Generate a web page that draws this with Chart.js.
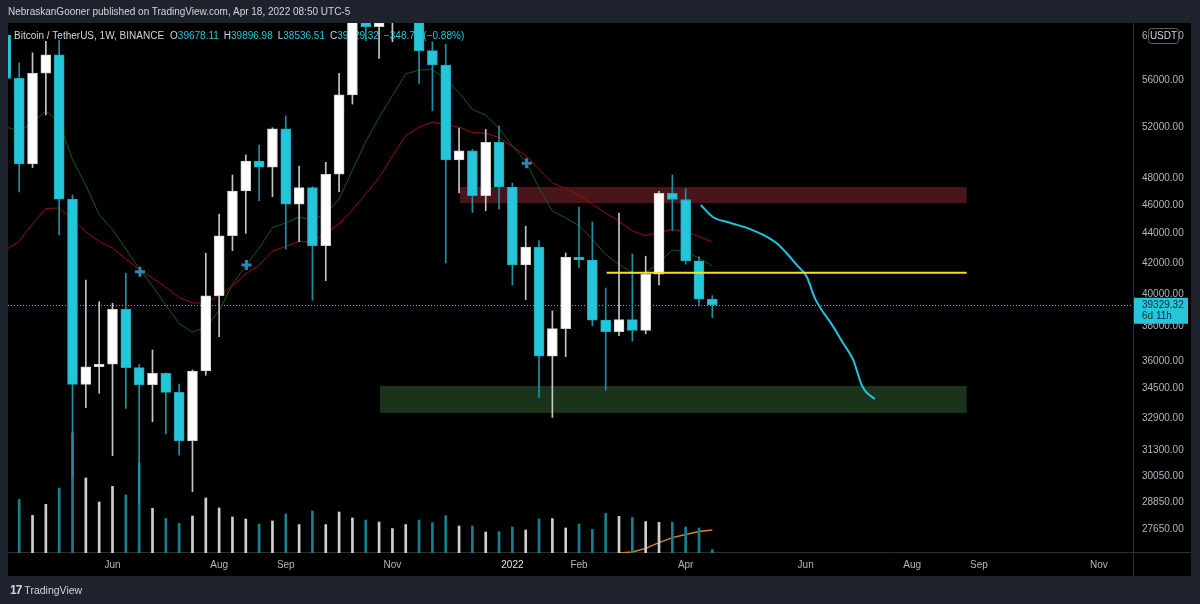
<!DOCTYPE html>
<html>
<head>
<meta charset="utf-8">
<script src="https://cdn.jsdelivr.net/npm/chart.js@4.4.1/dist/chart.umd.min.js"></script>
<style>
  html, body { margin: 0; padding: 0; background: #1e222d; }
  body { width: 1200px; height: 604px; position: relative; overflow: hidden; font-family: "Liberation Sans", Arial, sans-serif; }
  #chart { position: absolute; left: 0; top: 0; }
  #head { position: absolute; left: 8px; top: 6px; color: #d1d4dc; font-size: 10px; white-space: nowrap; }
  #foot { position: absolute; left: 10px; top: 583px; color: #d1d4dc; font-size: 10.5px; white-space: nowrap; }
  #foot b { font-size: 12px; letter-spacing: -1px; margin-right: 3px; }
</style>
</head>
<body>
<canvas id="chart" width="1200" height="604"></canvas>
<div id="head">NebraskanGooner published on TradingView.com, Apr 18, 2022 08:50 UTC-5</div>
<div id="foot"><b>17</b>TradingView</div>
<script>
// weeks counted from the week of Jun 7 2021 (= 0)
const weekIdx = [-8,-7,-6,-5,-4,-3,-2,-1,0,1,2,3,4,5,6,7,8,9,10,11,12,13,14,15,16,17,18,19,20,21,22,23,24,25,26,27,28,29,30,31,32,33,34,35,36,37,38,39,40,41,42,43,44,45];

const open  = [60100,56150,49070,56600,58250,46430,34700,35680,35820,39050,35625,34685,35313,34270,31760,35440,39890,43840,47030,49300,48820,51870,46060,47280,43160,48290,54700,61530,60900,61300,63270,65470,58640,57340,49390,50100,46690,50775,47330,41866,43070,36280,37880,42380,42200,38390,37700,38420,37780,41260,46860,46410,42150,39678.11];
const high  = [64850,57520,58450,59500,59600,46740,40890,39520,39420,41330,35800,36630,35340,34720,35500,42640,45360,48230,49770,50560,51950,52920,48920,47350,49200,56590,62930,67000,63710,64270,69000,66280,59470,59230,51920,50220,51820,52110,47630,44500,43500,38950,42660,45850,44800,40380,45430,42590,42450,47000,48240,47200,42400,39896.98];
const low   = [50930,46960,48800,53000,43900,30000,33450,34220,31020,33420,28810,32720,32100,31050,29310,35200,37400,42820,44000,46320,46610,42930,43430,39600,40850,46980,53920,59560,57940,59470,62280,55710,53360,42000,46890,45480,45600,45700,40570,39650,34000,32950,36250,41700,38050,34390,37460,37150,37580,40570,44200,41920,39260,38536.51];
const close = [56150,49070,56600,58250,46430,34700,35680,35820,39050,35625,34685,35313,34270,31760,35440,39890,43840,47030,49300,48820,51870,46060,47280,43160,48290,54700,61530,60900,61300,63270,65470,58640,57340,49390,50100,46690,50775,47330,41866,43070,36280,37880,42380,42200,38390,37700,38420,37780,41260,46860,46410,42150,39678.11,39329.32];

// volume in thousand BTC
const volume = [300,268,188,243,325,600,375,255,333,291,450,223,173,148,185,275,225,180,170,145,160,195,142,210,142,205,175,165,155,122,142,165,152,187,135,135,105,107,130,115,170,172,125,145,118,198,183,178,157,153,153,130,125,17];

const maFast = [52011,51685,52340,53336,52380,49420,47440,45326,44270,42932,41636,40506,39314,38187,37680,37977,38945,40634,41800,43000,44409,44724,45148,44935,45397,46444,48611,50839,52794,54652,56531,56888,56933,56044,54910,53462,53002,51889,50481,49265,47254,45576,45078,44548,43579,42563,41899,41376,41343,42031,42865,42764,42329,41800];
const maSlow = [42865,43476,44654,45756,45792,45006,44096,43442,43000,42263,41571,41019,40443,39780,39438,39438,39937,40506,41278,41866,42798,43102,43442,43408,44026,44654,45648,46811,48042,49693,51321,52011,52422,52175,52011,51564,51499,51160,50441,49732,48649,47628,47217,46774,46044,45433,44865,44165,43854,44096,44270,44130,43785,43408];

const volMaWeeks = [38,39,40,41,42,43,44,45];
const volMa = [0,5,23,52,77,93,107,115];

const crossWeeks = [2.06,10.05,31.07];
const crossPrice = [41430,41866,49126];

// drawn projection
const forecastWeeks = [44.13,45.07,46.32,47.83,48.82,49.83,50.58,51.33,52.08,52.7,54.07,54.82,55.57,56.2,56.45,57.2];
const forecastPrice = [46010,45130,44745,44300,43890,43320,42644,41870,41100,39730,38000,37017,36060,34670,34360,33910];

// [from week, to week, low price, high price]
const supplyZone = [26.07,64.08,46150,47330];
const demandZone = [20.07,64.08,33180,34620];
const levelWeeks = [37.07,64.08];
const levelPrice = 41362;
const lastPrice = 39329.32;

const priceTicks = [60000,56000,52000,48000,46000,44000,42000,40000,38000,36000,34500,32900,31300,30050,28850,27650];
const timeTickWeeks = [0,8,13,21,30,35,43,52,60,65,74];
const timeTickLabels = ['Jun','Aug','Sep','Nov','2022','Feb','Apr','Jun','Aug','Sep','Nov'];

const CYAN = '#26c6da';
const FONT = '"Liberation Sans", Arial, sans-serif';
const isUp = i => close[i] >= open[i];

const frame = {
  id: 'frame',
  beforeDraw(chart) {
    const {ctx, chartArea: a, scales: {x, y}} = chart;
    ctx.save();
    ctx.fillStyle = '#000';
    ctx.fillRect(a.left, a.top, y.right - a.left, x.bottom - a.top);
    ctx.strokeStyle = '#2a2e39';
    ctx.lineWidth = 1;
    ctx.beginPath();
    ctx.moveTo(a.right + 0.5, a.top); ctx.lineTo(a.right + 0.5, x.bottom);
    ctx.moveTo(a.left, a.bottom - 0.5); ctx.lineTo(y.right, a.bottom - 0.5);
    ctx.stroke();
    ctx.restore();
  },
  beforeDatasetsDraw(chart) {
    const {ctx, chartArea: a, scales: {x, y}} = chart;
    ctx.save();
    ctx.beginPath();
    ctx.rect(a.left, a.top, a.right - a.left, a.bottom - a.top);
    ctx.clip();
    const zone = (z, color) => {
      const x0 = x.getPixelForValue(z[0]), x1 = x.getPixelForValue(z[1]);
      const y0 = y.getPixelForValue(z[3]), y1 = y.getPixelForValue(z[2]);
      ctx.fillStyle = color;
      ctx.fillRect(x0, y0, x1 - x0, y1 - y0);
    };
    zone(supplyZone, '#4a1519');
    zone(demandZone, '#1b331b');

    // last price dotted line
    const py = Math.round(y.getPixelForValue(lastPrice)) + 0.5;
    ctx.strokeStyle = CYAN;
    ctx.setLineDash([1, 2]);
    ctx.beginPath();
    ctx.moveTo(a.left, py); ctx.lineTo(a.right, py);
    ctx.stroke();
    ctx.setLineDash([]);

    // symbol legend
    ctx.font = '10px ' + FONT;
    ctx.textBaseline = 'middle';
    let tx = a.left + 6;
    const ty = a.top + 13;
    const put = (t, c, gap) => { ctx.fillStyle = c; ctx.fillText(t, tx, ty); tx += ctx.measureText(t).width + gap; };
    put('Bitcoin / TetherUS, 1W, BINANCE', '#d1d4dc', 6);
    const n = close.length - 1;
    const ohlc = [['O', open[n]], ['H', high[n]], ['L', low[n]], ['C', close[n]]];
    ohlc.forEach(([k, v]) => { put(k, '#d1d4dc', 0); put(v.toFixed(2), CYAN, 5); });
    const ch = close[n] - open[n];
    put('\u2212' + Math.abs(ch).toFixed(2), CYAN, 3);
    put('(\u2212' + Math.abs(ch / open[n] * 100).toFixed(2) + '%)', CYAN, 0);
    ctx.restore();
  },
  afterDraw(chart) {
    const {ctx, chartArea: a, scales: {y}} = chart;
    ctx.save();
    const py = y.getPixelForValue(lastPrice);
    ctx.fillStyle = CYAN;
    ctx.fillRect(a.right + 1, py - 7, 54, 26);
    ctx.fillStyle = '#0c2a33';
    ctx.font = '10px ' + FONT;
    ctx.textBaseline = 'middle';
    ctx.fillText(lastPrice.toFixed(2), a.right + 9, py + 0.5);
    ctx.fillText('6d 11h', a.right + 9, py + 11);
    // currency badge
    const bx = a.right + 15, by = a.top + 5;
    ctx.fillStyle = '#000';
    ctx.strokeStyle = '#5d606b';
    ctx.beginPath();
    ctx.roundRect(bx + 0.5, by + 0.5, 30, 15, 3);
    ctx.fill(); ctx.stroke();
    ctx.fillStyle = '#d1d4dc';
    ctx.textAlign = 'center';
    ctx.fillText('USDT', bx + 15.5, by + 8.5);
    ctx.restore();
  }
};

new Chart(document.getElementById('chart'), {
  type: 'bar',
  data: {
    datasets: [
      {
        type: 'line', label: 'level', order: 0,
        data: levelWeeks.map(w => ({x: w, y: levelPrice})),
        borderColor: '#f2e31b', borderWidth: 2, pointRadius: 0
      },
      {
        type: 'line', label: 'projection', order: 0,
        data: forecastWeeks.map((w, i) => ({x: w, y: forecastPrice[i]})),
        borderColor: '#22c3dc', borderWidth: 2, pointRadius: 0, cubicInterpolationMode: 'monotone'
      },
      {
        type: 'line', label: 'cross', order: 0, showLine: false,
        data: crossWeeks.map((w, i) => ({x: w, y: crossPrice[i]})),
        pointStyle: 'cross', pointRadius: 5, pointBorderWidth: 3,
        pointBorderColor: '#2b86b3', pointBackgroundColor: '#2b86b3'
      },
      {
        label: 'body', order: 1, grouped: false, barThickness: 10,
        data: weekIdx.map((w, i) => ({x: w, y: [Math.min(open[i], close[i]), Math.max(open[i], close[i])]})),
        backgroundColor: c => isUp(c.dataIndex) ? '#ffffff' : CYAN,
        borderColor: c => isUp(c.dataIndex) ? '#cfcfcf' : '#1ea9bb',
        borderWidth: 1, borderSkipped: false
      },
      {
        label: 'wick', order: 2, grouped: false, barThickness: 1,
        data: weekIdx.map((w, i) => ({x: w, y: [low[i], high[i]]})),
        backgroundColor: c => isUp(c.dataIndex) ? '#c4c4c4' : '#1c93a5'
      },
      {
        label: 'volume', order: 3, grouped: false, barThickness: 2, yAxisID: 'yv',
        data: weekIdx.map((w, i) => ({x: w, y: volume[i]})),
        backgroundColor: c => isUp(c.dataIndex) ? '#cfcfcf' : '#187f8f'
      },
      {
        type: 'line', label: 'vol ma', order: 3, yAxisID: 'yv',
        data: volMaWeeks.map((w, i) => ({x: w, y: volMa[i]})),
        borderColor: '#d9821f', borderWidth: 1.5, pointRadius: 0
      },
      {
        type: 'line', label: 'ma fast', order: 4,
        data: weekIdx.map((w, i) => ({x: w, y: maFast[i]})),
        borderColor: '#145a14', borderWidth: 1, pointRadius: 0
      },
      {
        type: 'line', label: 'ma slow', order: 4,
        data: weekIdx.map((w, i) => ({x: w, y: maSlow[i]})),
        borderColor: '#980f0f', borderWidth: 1, pointRadius: 0
      }
    ]
  },
  options: {
    responsive: false,
    animation: false,
    layout: {padding: {left: 8, top: 23, right: 9, bottom: 28}},
    plugins: {legend: {display: false}, tooltip: {enabled: false}},
    scales: {
      x: {
        type: 'linear', min: -7.84, max: 76.56, offset: false,
        grid: {display: false, drawTicks: false},
        border: {display: false},
        afterBuildTicks: s => { s.ticks = timeTickWeeks.map(v => ({value: v})); },
        afterFit: s => { s.height = 23; },
        ticks: {
          autoSkip: false, maxRotation: 0, padding: 6,
          color: c => timeTickLabels[c.index] === '2022' ? '#e0e3eb' : '#b2b5be',
          font: {family: FONT, size: 10},
          callback: (v, i) => timeTickLabels[i]
        }
      },
      y: {
        type: 'logarithmic', position: 'right', min: 26621, max: 61250,
        grid: {display: false, drawTicks: false},
        border: {display: false},
        afterBuildTicks: s => { s.ticks = priceTicks.map(v => ({value: v})); },
        afterFit: s => { s.width = 58; },
        ticks: {
          padding: 9, color: '#b2b5be',
          font: {family: FONT, size: 10},
          callback: v => Number(v).toFixed(2)
        }
      },
      yv: {type: 'linear', display: false, min: 0, max: 2650}
    }
  },
  plugins: [frame]
});
</script>
</body>
</html>
